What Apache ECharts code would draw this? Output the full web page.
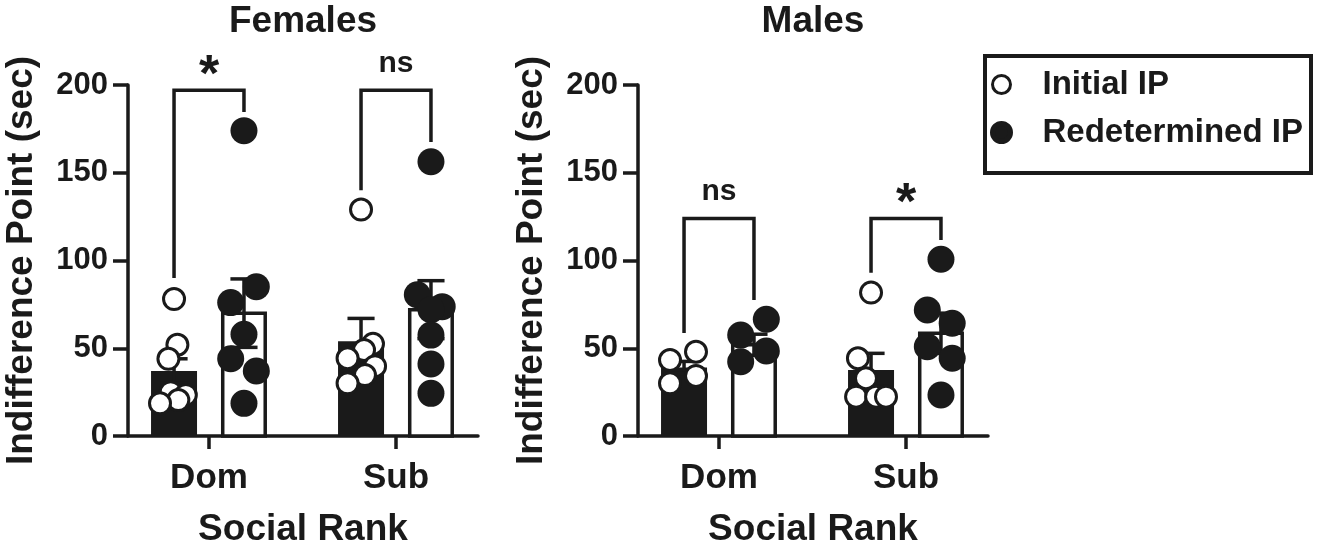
<!DOCTYPE html>
<html>
<head>
<meta charset="utf-8">
<script src="https://cdn.jsdelivr.net/npm/echarts@6/dist/echarts.min.js"></script>
<style>
html,body{margin:0;padding:0;background:#fff;}
#chart{width:1320px;height:549px;}
</style>
</head>
<body>
<div id="chart"></div>
<script>
// ---------------- data ----------------
const categories = ['Dom', 'Sub'];
const panelTitles = ['Females', 'Males'];
const seriesNames = ['Initial IP', 'Redetermined IP'];
const yTicks = [0, 50, 100, 150, 200];
const xName = 'Social Rank';
const yName = 'Indifference Point (sec)';

// bar means and SEM
const femInitialMean = [37, 54];
const femInitialSem = [7, 13];
const femRedetMean = [70, 72];
const femRedetSem = [19.5, 16.5];
const maleInitialMean = [39, 37.6];
const maleInitialSem = [3.5, 9.5];
const maleRedetMean = [52, 58.5];
const maleRedetSem = [6, 11.5];

// individual animals
const femDomInitial = [78, 52, 44, 25, 23.4, 20.5, 18.6];
const femDomInitialJitter = [0, 0.018, -0.030, -0.018, 0.063, 0.023, -0.075];
const femSubInitial = [129, 52.5, 49, 44.3, 39.8, 34.7, 30];
const femSubInitialJitter = [0, 0.064, 0.016, -0.072, 0.075, 0.021, -0.072];
const femDomRedet = [174, 85, 76, 58, 44, 37, 18.6];
const femDomRedetJitter = [0, 0.066, -0.071, 0, -0.071, 0.066, 0];
const femSubRedet = [156.3, 80.5, 73.7, 72, 57.5, 41, 24.3];
const femSubRedetJitter = [0, -0.073, 0.060, 0, 0, 0, 0];

const maleDomInitial = [48, 43.3, 34.2, 30];
const maleDomInitialJitter = [0.064, -0.075, 0.064, -0.075];
const maleSubInitial = [81.7, 44.3, 32.9, 22.4, 22.4, 22.4];
const maleSubInitialJitter = [0, -0.070, -0.027, -0.080, 0.027, 0.080];
const maleDomRedet = [66.5, 57.5, 48.4, 42.3];
const maleDomRedetJitter = [0.066, -0.071, 0.066, -0.071];
const maleSubRedet = [100.7, 71.8, 64.2, 50.9, 44.3, 23.4];
const maleSubRedetJitter = [0, -0.073, 0.060, -0.073, 0.060, 0];

// significance brackets: [top, left leg end, right leg end]
const femBrackets = [[197, 90, 184.6], [197, 140, 167.5]];
const femSig = ['*', 'ns'];
const maleBrackets = [[124, 58.7, 77.5], [124, 93, 111.7]];
const maleSig = ['ns', '*'];

// ---------------- layout / style constants ----------------
const INK = '#1a1a1a';
const FONT = '"Liberation Sans", Arial, Helvetica, sans-serif';
const X_MIN = 0.5668, X_MAX = 2.4385;
const GROUP_OFFSET = 0.187;
const BAR_W = 0.246;
const CAP_W = 0.145;
const LW = 3.5;
const gridLefts = [128, 638];
const GRID_TOP = 85, GRID_W = 350, GRID_H = 351;

const panels = [
  { initMean: femInitialMean, initSem: femInitialSem, redMean: femRedetMean, redSem: femRedetSem,
    initPts: [femDomInitial, femSubInitial], initJit: [femDomInitialJitter, femSubInitialJitter],
    redPts: [femDomRedet, femSubRedet], redJit: [femDomRedetJitter, femSubRedetJitter],
    brackets: femBrackets, sig: femSig },
  { initMean: maleInitialMean, initSem: maleInitialSem, redMean: maleRedetMean, redSem: maleRedetSem,
    initPts: [maleDomInitial, maleSubInitial], initJit: [maleDomInitialJitter, maleSubInitialJitter],
    redPts: [maleDomRedet, maleSubRedet], redJit: [maleDomRedetJitter, maleSubRedetJitter],
    brackets: maleBrackets, sig: maleSig }
];

function barRender(filled) {
  return function (params, api) {
    const x = api.value(0), mean = api.value(1), sem = api.value(2);
    const top = api.coord([x, mean]);
    const base = api.coord([x, 0]);
    const w = api.size([BAR_W, 0])[0];
    const cap = api.size([CAP_W, 0])[0];
    const hi = api.coord([x, mean + sem]);
    const lo = api.coord([x, Math.max(mean - sem, 0)]);
    const children = [];
    if (filled) {
      children.push({ type: 'rect', shape: { x: top[0] - w / 2, y: top[1], width: w, height: base[1] - top[1] },
        style: { fill: INK } });
    } else {
      children.push({ type: 'rect', shape: { x: top[0] - w / 2 + LW / 2, y: top[1], width: w - LW, height: base[1] - top[1] },
        style: { fill: '#fff', stroke: INK, lineWidth: LW } });
    }
    const ls = { stroke: INK, lineWidth: LW };
    children.push({ type: 'line', shape: { x1: top[0], y1: lo[1], x2: top[0], y2: hi[1] }, style: ls });
    children.push({ type: 'line', shape: { x1: top[0] - cap / 2, y1: hi[1], x2: top[0] + cap / 2, y2: hi[1] }, style: ls });
    children.push({ type: 'line', shape: { x1: top[0] - cap / 2, y1: lo[1], x2: top[0] + cap / 2, y2: lo[1] }, style: ls });
    return { type: 'group', children: children };
  };
}

function bracketRender(labels) {
  return function (params, api) {
    const x = api.value(0), top = api.value(1), l = api.value(2), r = api.value(3);
    const pL = api.coord([x - GROUP_OFFSET, l]);
    const pLT = api.coord([x - GROUP_OFFSET, top]);
    const pRT = api.coord([x + GROUP_OFFSET, top]);
    const pR = api.coord([x + GROUP_OFFSET, r]);
    const lab = labels[params.dataIndex];
    const isStar = lab === '*';
    return { type: 'group', children: [
      { type: 'polyline', shape: { points: [pL, pLT, pRT, pR] },
        style: { stroke: INK, lineWidth: LW, fill: null, lineJoin: 'miter' } },
      { type: 'text', style: { text: lab, x: (pLT[0] + pRT[0]) / 2, y: pLT[1] - (isStar ? 14 : 27),
        fill: INK, fontFamily: FONT, fontWeight: 'bold', fontSize: isStar ? 52 : 30,
        align: 'center', verticalAlign: 'middle' } }
    ]};
  };
}

const grids = [], xAxes = [], yAxes = [], series = [], titles = [];
panels.forEach(function (p, k) {
  grids.push({ left: gridLefts[k], top: GRID_TOP, width: GRID_W, height: GRID_H, containLabel: false, outerBoundsMode: 'none' });
  titles.push({ text: panelTitles[k], left: gridLefts[k] + GRID_W / 2 - 5, top: -2, textAlign: 'center',
    textStyle: { fontFamily: FONT, fontWeight: 'bold', fontSize: 37, color: INK } });
  xAxes.push({
    type: 'value', gridIndex: k, min: X_MIN, max: X_MAX,
    splitLine: { show: false },
    axisLine: { show: true, onZero: false, lineStyle: { color: INK, width: LW } },
    axisTick: { show: true, customValues: [1, 2], length: 13, lineStyle: { color: INK, width: LW } },
    axisLabel: { customValues: [1, 2], formatter: function (v) { return categories[Math.round(v) - 1] || ''; },
      fontFamily: FONT, fontWeight: 'bold', fontSize: 35, color: INK, margin: 25 },
    name: xName, nameLocation: 'middle', nameGap: 75,
    nameTextStyle: { fontFamily: FONT, fontWeight: 'bold', fontSize: 37, color: INK }
  });
  yAxes.push({
    type: 'value', gridIndex: k, min: yTicks[0], max: yTicks[yTicks.length - 1], interval: yTicks[1] - yTicks[0],
    splitLine: { show: false },
    axisLine: { show: true, onZero: false, lineStyle: { color: INK, width: LW } },
    axisTick: { show: true, length: 15, lineStyle: { color: INK, width: LW } },
    axisLabel: { fontFamily: FONT, fontWeight: 'bold', fontSize: 31, color: INK, margin: 20 },
    name: yName, nameLocation: 'middle', nameGap: 88,
    nameTextStyle: { fontFamily: FONT, fontWeight: 'bold', fontSize: 37, color: INK }
  });

  series.push({ type: 'custom', name: seriesNames[0], xAxisIndex: k, yAxisIndex: k, renderItem: barRender(true),
    data: categories.map(function (c, i) { return [i + 1 - GROUP_OFFSET, p.initMean[i], p.initSem[i]]; }) });
  series.push({ type: 'custom', name: seriesNames[1], xAxisIndex: k, yAxisIndex: k, renderItem: barRender(false),
    data: categories.map(function (c, i) { return [i + 1 + GROUP_OFFSET, p.redMean[i], p.redSem[i]]; }) });

  const initData = [], redData = [];
  categories.forEach(function (c, i) {
    p.initPts[i].forEach(function (v, j) { initData.push([i + 1 - GROUP_OFFSET + p.initJit[i][j], v]); });
    p.redPts[i].forEach(function (v, j) { redData.push([i + 1 + GROUP_OFFSET + p.redJit[i][j], v]); });
  });
  series.push({ type: 'scatter', name: seriesNames[0], xAxisIndex: k, yAxisIndex: k, data: initData,
    symbol: 'circle', symbolSize: 21,
    itemStyle: { color: '#fff', borderColor: INK, borderWidth: 3, opacity: 1 } });
  series.push({ type: 'scatter', name: seriesNames[1], xAxisIndex: k, yAxisIndex: k, data: redData,
    symbol: 'circle', symbolSize: 27,
    itemStyle: { color: INK, opacity: 1 } });

  series.push({ type: 'custom', name: 'brackets', xAxisIndex: k, yAxisIndex: k, renderItem: bracketRender(p.sig),
    clip: false,
    data: p.brackets.map(function (b, i) { return [i + 1, b[0], b[1], b[2]]; }) });
});

const chart = echarts.init(document.getElementById('chart'), null, { renderer: 'canvas' });
chart.setOption({
  animation: false,
  backgroundColor: '#fff',
  title: titles,
  grid: grids,
  xAxis: xAxes,
  yAxis: yAxes,
  legend: {
    orient: 'vertical', left: 985, top: 63,
    itemWidth: 72, itemHeight: 18, itemGap: 15,
    symbolKeepAspect: true,
    textStyle: { fontFamily: FONT, fontWeight: 'bold', fontSize: 33, color: INK, lineHeight: 32 },
    data: [
      { name: seriesNames[0], icon: 'circle', itemStyle: { color: '#fff', borderColor: INK, borderWidth: 3 } },
      { name: seriesNames[1], icon: 'circle', itemStyle: { color: INK, borderColor: INK, borderWidth: 5 } }
    ]
  },
  graphic: [
    { type: 'rect', shape: { x: 985, y: 56, width: 326, height: 117 },
      style: { fill: null, stroke: INK, lineWidth: 4 }, silent: true }
  ],
  series: series
});
</script>
</body>
</html>
